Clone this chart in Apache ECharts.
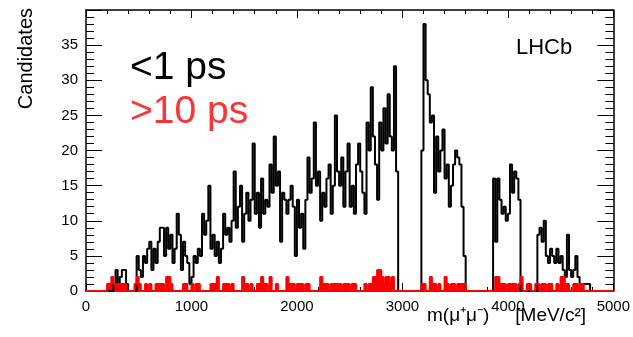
<!DOCTYPE html>
<html>
<head>
<meta charset="utf-8">
<title>m(mumu) candidates</title>
<script src="https://cdn.jsdelivr.net/npm/echarts@6/dist/echarts.min.js"></script>
<style>
  html, body { margin: 0; padding: 0; background: #fff; }
  #chart { width: 633px; height: 337px; }
</style>
</head>
<body>
<div id="chart"></div>
<script>
// histogram binning (MeV/c^2)
const binStart = 0;
const binWidth = 20;

// <1 ps candidates, one value per 20 MeV bin, rows of 200 MeV
const shortLived = [
  0,0,0,0,0,0,0,0,0,0,          // 0
  0,0,0,1,3,1,2,3,3,1,          // 200
  0,0,0,0,5,3,2,5,4,6,          // 400
  7,3,6,4,7,9,9,5,9,6,          // 600
  8,4,6,11,8,3,7,5,4,1,         // 800
  2,5,4,6,5,11,8,10,15,6,       // 1000
  8,5,7,4,6,11,8,9,7,10,        // 1200
  17,9,12,15,7,11,14,10,13,21,  // 1400
  11,14,9,16,11,13,12,18,14,22, // 1600
  15,17,7,14,13,11,13,15,12,5,  // 1800
  13,9,11,6,13,19,14,16,24,15,  // 2000
  17,10,14,12,16,18,11,15,25,17,// 2200
  15,19,12,17,21,12,15,11,18,21,// 2400
  17,14,11,24,20,29,22,18,13,24,// 2600
  20,26,21,28,22,20,32,17,0,0,  // 2800
  0,0,0,0,0,0,0,0,0,20,         // 3000
  38,30,28,24,25,14,22,17,20,23,// 3200
  16,18,12,15,18,20,19,18,12,5, // 3400
  0,0,0,0,0,0,0,0,0,0,          // 3600
  0,0,0,16,7,16,13,11,12,10,    // 3800
  11,18,14,17,16,13,0,0,0,0,    // 4000
  0,0,0,0,8,9,7,10,5,4,         // 4200
  6,5,4,6,4,5,3,2,8,3,          // 4400
  2,3,5,2,1,1,1,1,1,0,          // 4600
  0,0,0,0,0,0,0,0,0,0           // 4800
];

// >10 ps candidates
const longLived = [
  0,0,0,0,0,0,0,0,0,0,
  1,1,2,1,1,1,1,1,1,0,
  0,0,0,1,2,1,0,0,1,0,
  1,0,0,1,1,1,1,0,2,2,
  1,0,0,0,0,0,1,1,0,0,
  1,0,1,1,0,0,0,0,0,1,
  1,1,2,0,0,1,1,1,0,1,
  0,0,0,0,2,1,1,0,1,0,
  0,1,1,2,1,1,0,2,0,0,
  1,0,0,0,0,2,1,1,1,0,
  1,1,1,0,1,1,0,0,0,0,
  0,2,1,1,1,0,1,1,1,1,
  1,0,1,1,1,0,1,1,0,0,
  0,0,1,0,1,1,2,2,3,3,
  2,1,2,2,1,2,0,0,0,0,
  0,0,0,0,0,0,0,0,0,1,
  1,0,0,2,1,1,0,1,0,0,
  2,1,0,1,1,0,1,1,1,1,
  0,0,0,0,0,0,0,0,0,0,
  0,0,0,0,2,2,1,1,1,0,
  1,1,1,1,0,1,2,0,0,1,
  1,0,0,1,1,0,1,1,0,1,
  1,0,0,1,0,2,2,1,1,0,
  0,1,1,0,1,1,0,0,0,0,
  0,0,0,0,0,0,0,0,0,0
];

const font = "'Liberation Sans', Arial, Helvetica, sans-serif";

// bin edges -> step points (last edge repeats the last value)
function toSteps(vals) {
  const pts = vals.map((v, i) => [binStart + i * binWidth, v]);
  pts.push([binStart + vals.length * binWidth, vals[vals.length - 1]]);
  return pts;
}

// bottom axis line is covered by the red histogram's zero level
function xAxisOf(pos, labels, lineColor) {
  return {
    type: 'value', position: pos, min: 0, max: 5000, interval: 1000,
    axisLine: { show: true, onZero: false, lineStyle: { color: lineColor, width: labels ? 2 : 1.5 } },
    axisTick: { show: true, inside: true, length: 8, lineStyle: { color: '#000', width: 1 } },
    minorTick: { show: true, splitNumber: 5, length: 4, lineStyle: { color: '#000', width: 1 } },
    axisLabel: { show: labels, color: '#000', fontSize: 15, margin: 8, fontFamily: font,
      formatter: v => String(v) },
    splitLine: { show: false }
  };
}

function yAxisOf(pos, labels) {
  return {
    type: 'value', position: pos, min: 0, max: 40, interval: 5,
    axisLine: { show: true, onZero: false, lineStyle: { color: '#000', width: 1.5 } },
    axisTick: { show: true, inside: true, length: 16, lineStyle: { color: '#000', width: 1 } },
    minorTick: { show: true, splitNumber: 5, length: 8, lineStyle: { color: '#000', width: 1 } },
    axisLabel: { show: labels, showMaxLabel: false, color: '#000', fontSize: 15, margin: 8, fontFamily: font },
    splitLine: { show: false }
  };
}

const chart = echarts.init(document.getElementById('chart'), null, { renderer: 'canvas' });
chart.setOption({
  animation: false,
  backgroundColor: '#fff',
  grid: { left: 86, right: 18, top: 10, bottom: 46 },
  xAxis: [xAxisOf('bottom', true, '#ff0000'), xAxisOf('top', false, '#000')],
  yAxis: [yAxisOf('left', true), yAxisOf('right', false)],
  series: [
    {
      name: '<1 ps', type: 'line', step: 'end', data: toSteps(shortLived),
      showSymbol: false, symbol: 'none',
      lineStyle: { color: '#000', width: 2 }
    },
    {
      name: '>10 ps', type: 'line', step: 'end', data: toSteps(longLived),
      showSymbol: false, symbol: 'none', clip: false,
      lineStyle: { color: '#ff0000', width: 2 },
      areaStyle: { color: '#ff0000', opacity: 1 }
    }
  ],
  graphic: [
    { type: 'text', x: 130, y: 68, style: { text: '<1 ps', font: '39px ' + font, fill: '#000', align: 'left', verticalAlign: 'middle' } },
    { type: 'text', x: 130, y: 112, style: { text: '>10 ps', font: '39px ' + font, fill: '#ff3333', align: 'left', verticalAlign: 'middle' } },
    { type: 'text', x: 516, y: 48, style: { text: 'LHCb', font: '22px ' + font, fill: '#000', align: 'left', verticalAlign: 'middle' } },
    { type: 'text', x: 427, y: 316, style: { text: 'm(μ⁺μ⁻)', font: '19px ' + font, fill: '#000', align: 'left', verticalAlign: 'middle' } },
    { type: 'text', x: 586, y: 316, style: { text: '[MeV/c²]', font: '19px ' + font, fill: '#000', align: 'right', verticalAlign: 'middle' } },
    { type: 'text', x: 26, y: 8, rotation: Math.PI / 2, style: { text: 'Candidates', font: '20px ' + font, fill: '#000', align: 'right', verticalAlign: 'middle' } }
  ]
});
</script>
</body>
</html>
